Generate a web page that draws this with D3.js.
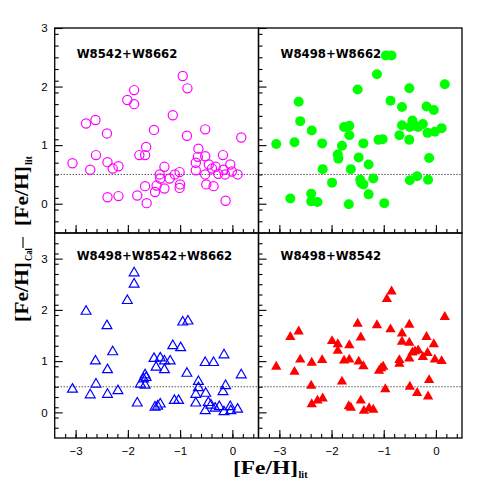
<!DOCTYPE html>
<html><head><meta charset="utf-8">
<script src="https://cdn.jsdelivr.net/npm/d3@7"></script>
<style>body{margin:0;background:#fff}</style>
</head><body><svg id="c" width="491" height="491"></svg>
<script>
// ---------- data ----------
const panelTitles = ["W8542+W8662", "W8498+W8662", "W8498+W8542+W8662", "W8498+W8542"];
const xTickValues = [-3, -2, -1, 0];
const yTickValues = [0, 1, 2, 3];
const refLine = 0.5;

// W8542+W8662 (magenta open circles)
const feLit_a = [-3.06,-2.80,-2.62,-2.72,-2.61,-2.40,-2.39,-2.29,-2.18,-2.39,-2.18,-2.01,-1.88,-1.88,-1.82,-1.78,-1.67,-1.65,-1.67,-1.64,-1.50,-1.48,-1.45,-1.39,-1.38,-1.30,-1.30,-1.20,-1.14,-1.10,-1.01,-1.00,-1.01,-0.95,-0.86,-0.87,-0.70,-0.70,-0.66,-0.65,-0.52,-0.52,-0.52,-0.50,-0.45,-0.39,-0.36,-0.32,-0.27,-0.18,-0.17,-0.14,-0.13,-0.04,-0.01,0.10,0.17];
const dFe_a   = [0.69,1.37,1.43,0.58,0.83,1.20,0.71,0.60,0.64,0.11,0.13,1.77,1.94,1.70,0.14,0.83,0.83,0.97,0.30,0.01,1.26,0.20,0.31,0.50,0.43,0.63,0.26,0.43,1.51,0.50,0.54,0.33,0.27,2.18,1.97,1.16,0.70,0.57,0.80,0.94,1.27,0.81,0.50,0.33,0.67,0.60,0.30,0.63,0.51,0.83,0.58,0.50,0.05,0.67,0.55,0.50,1.13];

// W8498+W8662 (green filled circles)
const feLit_b = [-3.06,-2.79,-2.71,-2.63,-2.60,-2.39,-2.39,-2.27,-2.38,-2.18,-2.17,-1.99,-1.88,-1.87,-1.80,-1.76,-1.66,-1.66,-1.67,-1.63,-1.50,-1.48,-1.45,-1.43,-1.39,-1.39,-1.29,-1.29,-1.20,-1.13,-1.10,-1.02,-0.99,-0.96,-0.85,-0.87,-0.70,-0.65,-0.65,-0.51,-0.51,-0.50,-0.45,-0.40,-0.34,-0.25,-0.50,-0.36,-0.18,-0.16,-0.04,-0.02,-0.13,-0.15,0.11,0.17];
const dFe_b   = [1.02,0.09,1.05,1.74,1.41,0.17,0.04,0.03,1.25,1.03,0.59,0.36,0.84,0.77,0.99,1.31,1.33,1.17,-0.01,0.59,1.95,0.79,0.41,0.35,0.33,1.03,0.67,0.16,0.43,2.21,1.09,1.10,0.01,2.53,2.53,1.76,1.17,1.65,1.34,1.97,1.09,1.31,1.42,1.33,1.31,1.36,0.40,0.47,1.66,1.21,1.60,1.23,0.78,0.41,1.29,2.04];

// W8498+W8542+W8662 (blue open triangles)
const feLit_c = [-3.06,-2.80,-2.72,-2.62,-2.61,-2.40,-2.39,-2.39,-2.29,-2.19,-2.01,-1.88,-1.88,-1.82,-1.76,-1.70,-1.67,-1.65,-1.67,-1.50,-1.46,-1.48,-1.43,-1.38,-1.38,-1.30,-1.30,-1.19,-1.14,-1.11,-1.03,-0.99,-0.95,-0.85,-0.87,-0.70,-0.70,-0.65,-0.65,-0.52,-0.51,-0.52,-0.46,-0.41,-0.36,-0.33,-0.25,-0.18,-0.16,-0.13,-0.16,-0.04,-0.03,0.10,0.17];
const dFe_c   = [0.45,1.97,0.34,1.00,0.55,1.69,0.83,0.35,1.18,0.42,2.18,2.50,2.72,0.18,0.55,0.65,0.73,0.68,0.53,1.05,0.88,0.10,0.12,0.16,1.06,1.00,0.83,1.00,1.30,0.23,0.23,1.26,1.76,1.78,0.76,0.35,0.18,0.60,0.48,0.97,0.37,0.03,0.19,0.14,0.97,0.08,0.11,0.40,1.12,0.52,0.01,0.11,0.03,0.06,0.73];

// W8498+W8542 (red filled triangles)
const feLit_d = [-3.06,-2.79,-2.71,-2.63,-2.60,-2.39,-2.38,-2.38,-2.27,-2.17,-2.18,-1.99,-1.88,-1.88,-1.80,-1.76,-1.66,-1.66,-1.67,-1.63,-1.50,-1.48,-1.44,-1.44,-1.39,-1.38,-1.28,-1.20,-1.13,-1.09,-1.05,-1.01,-0.97,-0.94,-0.85,-0.87,-0.70,-0.70,-0.65,-0.65,-0.51,-0.51,-0.51,-0.50,-0.45,-0.40,-0.34,-0.25,-0.36,-0.18,-0.16,-0.15,-0.13,-0.04,-0.02,0.11,0.17];
const dFe_d   = [0.89,1.47,0.79,1.58,1.03,0.52,0.97,0.16,0.23,0.27,1.02,1.39,1.33,1.20,0.60,1.01,1.31,1.03,0.12,0.09,1.73,0.99,1.46,0.23,0.90,0.03,0.08,0.05,1.70,0.81,0.86,0.89,0.45,2.21,2.36,1.62,1.02,0.95,1.54,1.38,1.71,1.36,1.05,0.50,1.17,1.19,1.21,1.08,0.38,1.47,1.16,0.31,0.63,1.33,1.03,1.00,1.86];

// ---------- layout ----------
const svg = d3.select("#c");
const X0 = 54.7, XM = 258.5, X1 = 462;
const Y0 = 28, YM = 233, Y1 = 438;
const xDomain = [-3.4, 0.5];
const panels = [
  {x0: X0, x1: XM, y0: Y0, y1: YM, yd: [-0.5, 3],   xs: feLit_a, ys: dFe_a, kind: "circle", fill: "none", stroke: "#ff00ff", label: true,  xl: false},
  {x0: XM, x1: X1, y0: Y0, y1: YM, yd: [-0.5, 3],   xs: feLit_b, ys: dFe_b, kind: "circle", fill: "#00ff00", stroke: "none", label: false, xl: false},
  {x0: X0, x1: XM, y0: YM, y1: Y1, yd: [-0.5, 3.5], xs: feLit_c, ys: dFe_c, kind: "tri", fill: "none", stroke: "#0000ff", label: true,  xl: true},
  {x0: XM, x1: X1, y0: YM, y1: Y1, yd: [-0.5, 3.5], xs: feLit_d, ys: dFe_d, kind: "tri", fill: "#ff0000", stroke: "none", label: false, xl: true}
];

const tickFont = "'Liberation Sans', Arial, sans-serif";

panels.forEach((p, i) => {
  const x = d3.scaleLinear().domain(xDomain).range([p.x0, p.x1]);
  const y = d3.scaleLinear().domain(p.yd).range([p.y1, p.y0]);
  const g = svg.append("g");

  // minor ticks
  const xMinor = d3.range(-3.2, 0.45, 0.2).map(v => +v.toFixed(2));
  const yMinor = d3.range(p.yd[0] + 0.2, p.yd[1] - 0.05, 0.2).map(v => +v.toFixed(2));
  g.append("g").attr("transform", `translate(0,${p.y1})`)
    .call(d3.axisBottom(x).tickValues(xMinor).tickSize(-4).tickFormat(""))
    .call(a => a.select(".domain").remove());
  g.append("g").attr("transform", `translate(${p.x0},0)`)
    .call(d3.axisLeft(y).tickValues(yMinor).tickSize(-4).tickFormat(""))
    .call(a => a.select(".domain").remove());

  // major ticks
  g.append("g").attr("transform", `translate(0,${p.y1})`)
    .call(d3.axisBottom(x).tickValues(xTickValues).tickSize(-8).tickPadding(9)
      .tickFormat(p.xl ? d3.format("d") : ""))
    .call(a => a.select(".domain").remove());
  g.append("g").attr("transform", `translate(${p.x0},0)`)
    .call(d3.axisLeft(y).tickValues(yTickValues).tickSize(-8).tickPadding(7)
      .tickFormat(p.label ? d3.format("d") : ""))
    .call(a => a.select(".domain").remove());
  g.selectAll(".tick line").attr("stroke", "#000").attr("stroke-width", 1.1);
  g.selectAll(".tick text").attr("font-family", tickFont).attr("font-size", 11.5).attr("fill", "#000");

  // reference line
  g.append("line")
    .attr("x1", p.x0).attr("x2", p.x1).attr("y1", y(refLine)).attr("y2", y(refLine))
    .attr("stroke", "#000").attr("stroke-width", 1).attr("stroke-dasharray", "1,2");

  // points
  const sym = d3.symbol().type(d3.symbolTriangle).size(p.fill === "none" ? 42 : 46);
  const pts = g.append("g");
  p.xs.forEach((xv, j) => {
    if (p.kind === "circle") {
      pts.append("circle").attr("cx", x(xv)).attr("cy", y(p.ys[j]))
        .attr("r", p.fill === "none" ? 4.6 : 5)
        .attr("fill", p.fill).attr("stroke", p.stroke).attr("stroke-width", 1.2);
    } else {
      pts.append("path").attr("d", sym())
        .attr("transform", `translate(${x(xv)},${y(p.ys[j])})`)
        .attr("fill", p.fill).attr("stroke", p.stroke).attr("stroke-width", 1.2);
    }
  });

  // panel title
  g.append("text")
    .attr("x", p.x0 + 22).attr("y", p.y0 + (i < 2 ? 30 : 27))
    .attr("font-family", "'DejaVu Sans', sans-serif").attr("font-weight", "bold")
    .attr("font-size", 12).attr("fill", "#000")
    .attr("textLength", panelTitles[i].length * 9.15).attr("lengthAdjust", "spacingAndGlyphs")
    .text(panelTitles[i]);

  // frame
  g.append("rect").attr("x", p.x0).attr("y", p.y0)
    .attr("width", p.x1 - p.x0).attr("height", p.y1 - p.y0)
    .attr("fill", "none").attr("stroke", "#000").attr("stroke-width", 1.3);
});

// ---------- axis titles ----------
const serif = "'Liberation Serif', 'DejaVu Serif', serif";
const xt = svg.append("g");
xt.append("text").attr("x", 233).attr("y", 474)
  .attr("font-family", serif).attr("font-weight", "bold").attr("font-size", 18)
  .attr("textLength", 65).attr("lengthAdjust", "spacingAndGlyphs").text("[Fe/H]");
xt.append("text").attr("x", 298.5).attr("y", 478)
  .attr("font-family", serif).attr("font-weight", "bold").attr("font-size", 10)
  .attr("textLength", 9).attr("lengthAdjust", "spacingAndGlyphs").text("lit");

const yt = svg.append("g").attr("transform", "translate(28,0) rotate(-90)");
yt.append("text").attr("x", -322).attr("y", 0)
  .attr("font-family", serif).attr("font-weight", "bold").attr("font-size", 18)
  .attr("textLength", 60).attr("lengthAdjust", "spacingAndGlyphs").text("[Fe/H]");
yt.append("text").attr("x", -261).attr("y", 4)
  .attr("font-family", serif).attr("font-weight", "bold").attr("font-size", 10)
  .attr("textLength", 13).attr("lengthAdjust", "spacingAndGlyphs").text("Cal");
yt.append("line").attr("x1", -248).attr("x2", -237).attr("y1", -5).attr("y2", -5)
  .attr("stroke", "#000").attr("stroke-width", 1.1);
yt.append("text").attr("x", -226).attr("y", 0)
  .attr("font-family", serif).attr("font-weight", "bold").attr("font-size", 18)
  .attr("textLength", 60).attr("lengthAdjust", "spacingAndGlyphs").text("[Fe/H]");
yt.append("text").attr("x", -165).attr("y", 4)
  .attr("font-family", serif).attr("font-weight", "bold").attr("font-size", 10)
  .attr("textLength", 9).attr("lengthAdjust", "spacingAndGlyphs").text("lit");
</script></body></html>
